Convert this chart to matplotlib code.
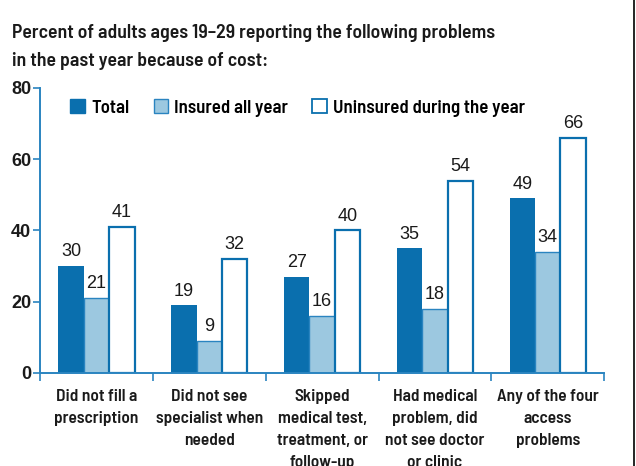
import numpy as np
import matplotlib
matplotlib.use('Agg')
import matplotlib.pyplot as plt
from matplotlib.lines import Line2D
from matplotlib.patches import Patch

# condensed face for the words, arial-like face for the numbers
plt.rcParams['font.family'] = ['Barlow Semi Condensed', 'DejaVu Sans']
num_font = ['Liberation Sans', 'DejaVu Sans']

categories = ['Did not fill a\nprescription',
              'Did not see\nspecialist when\nneeded',
              'Skipped\nmedical test,\ntreatment, or\nfollow-up',
              'Had medical\nproblem, did\nnot see doctor\nor clinic',
              'Any of the four\naccess\nproblems']
total = [30, 19, 27, 35, 49]
insured = [21, 9, 16, 18, 34]
uninsured = [41, 32, 40, 54, 66]
yticks = [0, 20, 40, 60, 80]

dark = '#0A6FAE'
light = '#9CC8E0'
edge = '#2A84C0'
ink = '#1a1a1a'

fig = plt.figure(figsize=(6.36, 4.66), dpi=100)
ax = fig.add_axes([0.063, 0.1996, 0.887, 0.6116])

x = np.arange(len(categories))
w = 0.225
b1 = ax.bar(x - w, total, w, color=dark, linewidth=0)
b2 = ax.bar(x, insured, w, color=light, edgecolor=edge, linewidth=1.0)
b3 = ax.bar(x + w, uninsured, w, color='white', edgecolor=dark, linewidth=1.6)

for bars, vals in [(b1, total), (b2, insured), (b3, uninsured)]:
    for r, v in zip(bars, vals):
        ax.text(r.get_x() + r.get_width() / 2, v + 1.6, str(v), ha='center', va='bottom',
                fontsize=13, family=num_font, color=ink)

ax.set_xlim(-0.5, len(categories) - 0.5)
ax.set_ylim(0, 80)
ax.set_yticks(yticks)
ax.set_yticklabels([str(t) for t in yticks], fontsize=13, fontweight='bold',
                   family=num_font, color=ink)
ax.set_xticks(np.arange(len(categories) + 1) - 0.5)
ax.set_xticklabels([])
ax.tick_params(axis='y', length=5, color=edge, width=1.2, pad=1.5)
ax.tick_params(axis='x', length=6, color=edge, width=1.2, direction='out')
for s in ['top', 'right']:
    ax.spines[s].set_visible(False)
for s in ['left', 'bottom']:
    ax.spines[s].set_color(edge)
    ax.spines[s].set_linewidth(1.4)

for i, c in enumerate(categories):
    ax.text(i, -4.5, c, ha='center', va='top', fontsize=12.5, fontweight=600,
            color=ink, linespacing=1.57)

handles = [Patch(facecolor=dark, edgecolor=dark),
           Patch(facecolor=light, edgecolor=edge),
           Patch(facecolor='white', edgecolor=dark, linewidth=1.3)]
ax.legend(handles, ['Total', 'Insured all year', 'Uninsured during the year'],
          loc='upper left', bbox_to_anchor=(0.024, 1.02), ncol=3, frameon=False,
          handlelength=0.75, handleheight=0.75, handletextpad=0.35,
          columnspacing=1.3, prop={'weight': 600, 'size': 13.5})

fig.text(0.019, 0.948, 'Percent of adults ages 19\u201329 reporting the following problems\nin the past year because of cost:',
         ha='left', va='top', fontsize=14.2, fontweight=600, color=ink, linespacing=1.67)

fig.add_artist(Line2D([0.997, 0.997], [0, 1], color='black', linewidth=1.2))

fig.savefig('out.png', dpi=100)
